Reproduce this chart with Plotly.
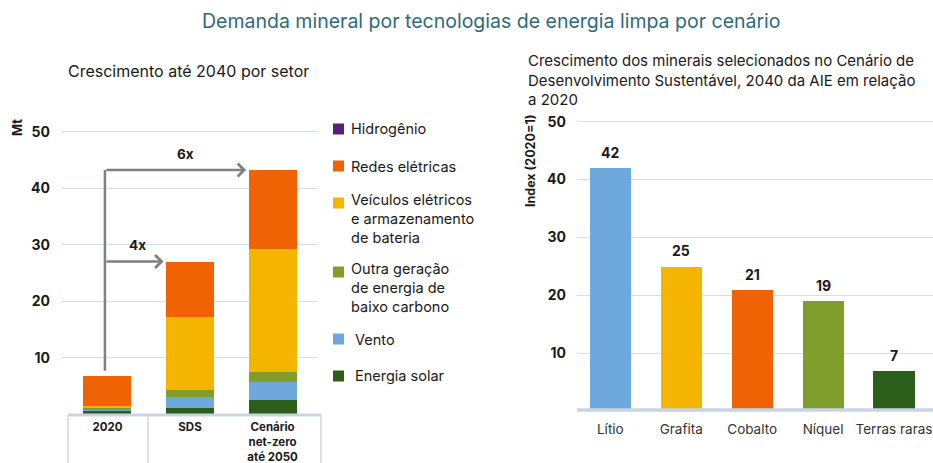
import plotly.graph_objects as go

W, H = 933, 463

# ---------------- data ----------------
scenarios = ["2020", "SDS", "Cenário<br>net-zero<br>até 2050"]
sectors = ["Energia solar", "Vento", "Outra geração<br>de energia de<br>baixo carbono",
           "Veículos elétricos<br>e armazenamento<br>de bateria", "Redes elétricas", "Hidrogênio"]
sector_colors = ["#2b5e1b", "#6fa8dc", "#7f9e2c", "#f4b400", "#ef6304", "#5a2079"]
solar = [0.5, 1.1, 2.5]
wind = [0.4, 2.0, 3.2]
other_low_carbon = [0.3, 1.2, 1.7]
ev_battery = [0.3, 12.9, 21.8]
grids = [5.2, 9.8, 14.0]
hydrogen = [0.0, 0.0, 0.0]
sector_values = [solar, wind, other_low_carbon, ev_battery, grids, hydrogen]
growth_labels = ["4x", "6x"]

minerals = ["Lítio", "Grafita", "Cobalto", "Níquel", "Terras raras"]
mineral_index = [42, 25, 21, 19, 7]
mineral_colors = ["#6fa8dc", "#f4b400", "#ef6304", "#7f9e2c", "#2b5e1b"]

FONT = "Inter"
GRID = "#d3deec"
BASE = "#c8d4e4"
TXT = "#1a1a1a"
ARROW = "#808080"

def px_x(p):
    return p / W

def px_y(p):
    return 1 - p / H

fig = go.Figure()

BARW = 0.58
for name, vals, col in zip(sectors, sector_values, sector_colors):
    fig.add_trace(go.Bar(
        x=list(range(len(scenarios))), y=vals, name=name.replace("<br>", " "),
        marker=dict(color=col, line=dict(width=0)),
        width=BARW, xaxis="x", yaxis="y", showlegend=False, hoverinfo="y+name"))

fig.add_trace(go.Bar(
    x=list(range(len(minerals))), y=mineral_index, marker=dict(color=mineral_colors, line=dict(width=0)),
    width=BARW, xaxis="x2", yaxis="y2", showlegend=False))

totals = [sum(v[i] for v in sector_values) for i in range(len(scenarios))]

shapes = []
annotations = []

# growth arrows
shapes.append(dict(type="line", xref="x", yref="y", x0=-0.03, x1=-0.03, y0=totals[0] + 1.0, y1=totals[2],
                   line=dict(color=ARROW, width=2.5)))
label_x = [0.37, 0.94]
for idx, lab, lx in zip([1, 2], growth_labels, label_x):
    annotations.append(dict(x=idx - BARW / 2 - 0.03, y=totals[idx], ax=-0.03, ay=totals[idx],
                            xref="x", yref="y", axref="x", ayref="y", text="", showarrow=True,
                            arrowhead=4, arrowsize=1.0, arrowwidth=2.5, arrowcolor=ARROW))
    annotations.append(dict(x=lx, y=totals[idx] + 2.9, xref="x", yref="y", text="<b>" + lab + "</b>",
                            showarrow=False, font=dict(family=FONT, size=13.5, color=TXT)))

# value labels right chart
for i, v in enumerate(mineral_index):
    annotations.append(dict(x=i, y=v, xref="x2", yref="y2", text="<b>%d</b>" % v, showarrow=False,
                            yanchor="bottom", yshift=5, font=dict(family=FONT, size=14, color=TXT)))

# legend (drawn top to bottom: Hidrogênio first)
leg_first_y = [376, 339, 272, 203, 166, 129]
leg_text_x = [353, 353, 349, 349, 349, 349]
LINE_H = 15.5
for name, col, y0, tx in zip(sectors, sector_colors, leg_first_y, leg_text_x):
    n_lines = name.count("<br>") + 1
    shapes.append(dict(type="rect", xref="paper", yref="paper", x0=px_x(333), x1=px_x(344),
                       y0=px_y(y0 - 5.5), y1=px_y(y0 + 5.5), fillcolor=col, line=dict(width=0)))
    annotations.append(dict(x=px_x(tx), y=px_y(y0 + (n_lines - 1) * LINE_H / 2), xref="paper", yref="paper",
                            text=name, showarrow=False, xanchor="left", yanchor="middle", align="left",
                            font=dict(family=FONT, size=14.5, color=TXT)))

# titles
annotations.append(dict(x=px_x(492), y=px_y(21), xref="paper", yref="paper",
                        text="Demanda mineral por tecnologias de energia limpa por cenário",
                        showarrow=False, font=dict(family=FONT, size=19.5, color="#2d6b7b"),
                        xanchor="center", yanchor="middle"))
annotations.append(dict(x=px_x(66), y=px_y(71), xref="paper", yref="paper", text="Crescimento até 2040 por setor",
                        showarrow=False, font=dict(family=FONT, size=16, color=TXT), xanchor="left", yanchor="middle"))
annotations.append(dict(x=px_x(526), y=px_y(79.5), xref="paper", yref="paper",
                        text="Crescimento dos minerais selecionados no Cenário de<br>"
                             "Desenvolvimento Sustentável, 2040 da AIE em relação<br>a 2020",
                        showarrow=False, xanchor="left", yanchor="middle", align="left",
                        font=dict(family=FONT, size=15, color=TXT)))
annotations.append(dict(x=px_x(17), y=px_y(128), xref="paper", yref="paper", text="<b>Mt</b>", textangle=-90,
                        xanchor="center", yanchor="middle",
                        showarrow=False, font=dict(family=FONT, size=13, color=TXT)))
annotations.append(dict(x=px_x(531), y=px_y(161), xref="paper", yref="paper", text="<b>Index (2020=1)</b>",
                        xanchor="center", yanchor="middle",
                        textangle=-90, showarrow=False, font=dict(family=FONT, size=12.5, color=TXT)))

# baselines and table lines
shapes.append(dict(type="line", xref="paper", yref="paper", x0=px_x(68), x1=px_x(321), y0=px_y(415), y1=px_y(415),
                   line=dict(color=BASE, width=3)))
for xp in [68, 148, 321]:
    shapes.append(dict(type="line", xref="paper", yref="paper", x0=px_x(xp), x1=px_x(xp), y0=px_y(415), y1=0,
                       line=dict(color="#d9d2e4", width=1.5)))
shapes.append(dict(type="line", xref="paper", yref="paper", x0=px_x(577), x1=1, y0=px_y(410), y1=px_y(410),
                   line=dict(color=BASE, width=3.5)))

fig.update_layout(
    width=W, height=H, margin=dict(l=0, r=0, t=0, b=0, autoexpand=False),
    paper_bgcolor="white", plot_bgcolor="white",
    barmode="stack", bargap=0,
    font=dict(family=FONT, color=TXT),
    showlegend=False,
    xaxis=dict(domain=[px_x(62), px_x(318)], range=[-0.55, 2.55], tickmode="array", automargin=False,
               tickvals=list(range(len(scenarios))), ticktext=scenarios, showgrid=False, zeroline=False,
               showline=False, ticks="", ticklabelstandoff=4,
               tickfont=dict(family=FONT, size=11.5, color=TXT, weight="bold")),
    yaxis=dict(domain=[px_y(414.2), px_y(126)], range=[0, 51], tickvals=[10, 20, 30, 40, 50], automargin=False,
               showgrid=True, gridcolor=GRID, gridwidth=1, zeroline=False, showline=False, ticks="",
               ticklabelstandoff=11, tickfont=dict(family=FONT, size=14, color=TXT, weight="bold")),
    xaxis2=dict(domain=[px_x(577), 1.0], range=[-0.47, 4.55], tickmode="array", automargin=False,
                tickvals=list(range(len(minerals))), ticktext=minerals, showgrid=False, zeroline=False,
                showline=False, ticks="", ticklabelstandoff=8, anchor="y2",
                tickfont=dict(family=FONT, size=13.5, color="#333333")),
    yaxis2=dict(domain=[px_y(411.2), px_y(115.9)], range=[0, 51], tickvals=[10, 20, 30, 40, 50],
                automargin=False, showgrid=True, gridcolor=GRID, gridwidth=1, zeroline=False, showline=False,
                ticks="", ticklabelstandoff=10, anchor="x2",
                tickfont=dict(family=FONT, size=14, color=TXT, weight="bold")),
    shapes=shapes, annotations=annotations,
)

fig.write_html("out.html", config={"displayModeBar": False},
               post_script="document.body.style.margin='0px';")
